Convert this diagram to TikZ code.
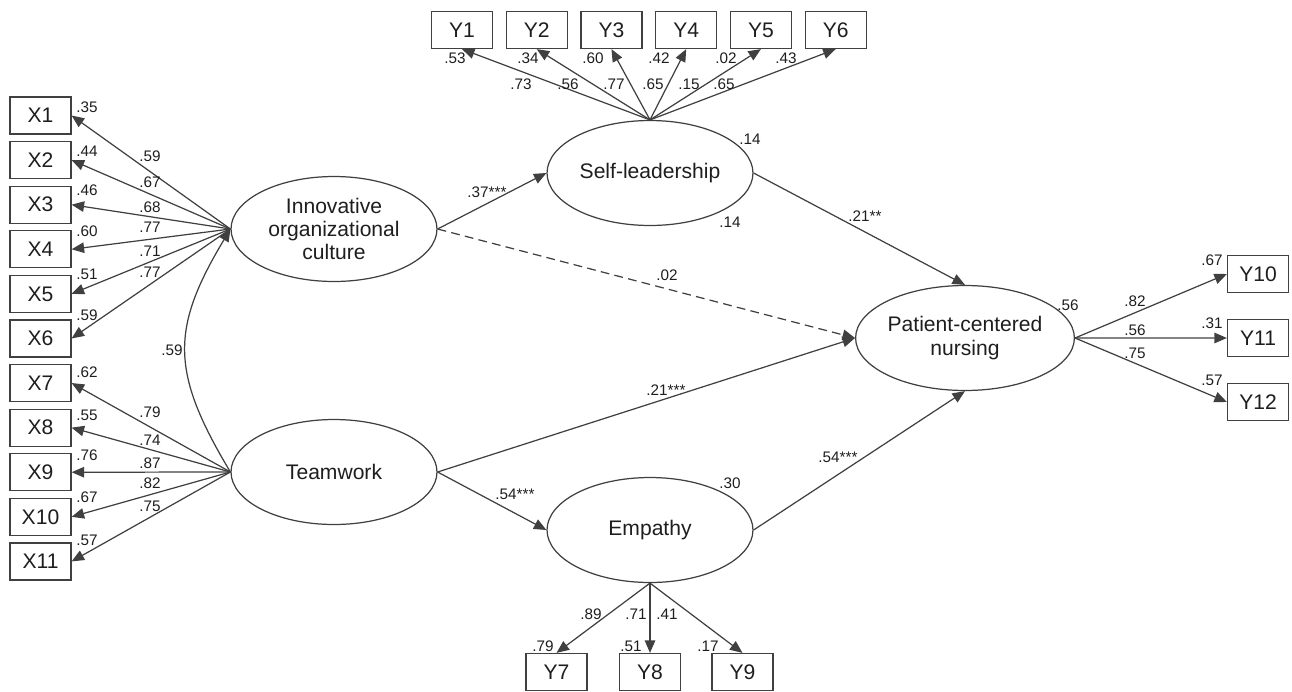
\documentclass[tikz,border=0pt]{standalone}
\usepackage{fontspec}
\setmainfont{Liberation Sans}
\usetikzlibrary{shapes.geometric,arrows.meta,positioning}
\definecolor{linegray}{RGB}{64,64,64}
\definecolor{textgray}{RGB}{30,30,30}
\tikzset{
    %Define standard arrow tip
    >={Triangle[length=2.5mm,width=2.1mm]},
    %Define style for latent variables
    oval/.style={
           ellipse,
           draw=linegray,
           line width=0.7pt,
           minimum width=4.12cm,
           minimum height=2.1cm,
           inner sep=0pt,
           align=center,
           text=textgray,
           font=\fontsize{12}{13.3}\selectfont},
    %Define style for observed variables
    boks/.style={
           rectangle,
           draw=linegray,
           line width=0.7pt,
           minimum width=1.22cm,
           minimum height=0.74cm,
           inner sep=0pt,
           text=textgray,
           font=\fontsize{12}{14}\selectfont},
    % Define style for estimates
    est/.style={
           inner sep=0pt,
           text=textgray,
           font=\fontsize{8.7}{10}\selectfont},
    % Define arrow style
    arr/.style={
           ->,
           draw=linegray,
           line width=0.7pt}
}

\begin{document}
\begin{tikzpicture}[x=0.02cm, y=0.02cm]
 \useasboundingbox (0,0) rectangle (1292,-691);

 % latent variables
 \node [oval] (inno) at (334,-229) {Innovative\\organizational\\culture};
 \node [oval] (team) at (334,-472) {Teamwork};
 \node [oval] (self) at (650,-173) {Self-leadership};
 \node [oval] (emp) at (650,-530) {Empathy};
 \node [oval] (pcn) at (965,-338) {Patient-centered\\nursing};

 % indicators of innovative culture
 \node [boks] (x1) at (40.5,-115.5) {X1};
 \node [boks, below of=x1, node distance=0.892cm] (x2) {X2};
 \node [boks, below of=x2, node distance=0.892cm] (x3) {X3};
 \node [boks, below of=x3, node distance=0.892cm] (x4) {X4};
 \node [boks, below of=x4, node distance=0.892cm] (x5) {X5};
 \node [boks, below of=x5, node distance=0.892cm] (x6) {X6};
 % indicators of teamwork
 \node [boks, below of=x6, node distance=0.892cm] (x7) {X7};
 \node [boks, below of=x7, node distance=0.892cm] (x8) {X8};
 \node [boks, below of=x8, node distance=0.892cm] (x9) {X9};
 \node [boks, below of=x9, node distance=0.892cm] (x10) {X10};
 \node [boks, below of=x10, node distance=0.892cm] (x11) {X11};

 % indicators of self-leadership
 \node [boks] (y1) at (462,-30) {Y1};
 \node [boks, right of=y1, node distance=1.495cm] (y2) {Y2};
 \node [boks, right of=y2, node distance=1.495cm] (y3) {Y3};
 \node [boks, right of=y3, node distance=1.495cm] (y4) {Y4};
 \node [boks, right of=y4, node distance=1.495cm] (y5) {Y5};
 \node [boks, right of=y5, node distance=1.495cm] (y6) {Y6};

 % indicators of empathy
 \node [boks] (y8) at (650,-672) {Y8};
 \node [boks, left of=y8, node distance=1.87cm] (y7) {Y7};
 \node [boks, right of=y8, node distance=1.85cm] (y9) {Y9};

 % indicators of patient-centered nursing
 \node [boks] (y10) at (1258,-274) {Y10};
 \node [boks, below of=y10, node distance=1.28cm] (y11) {Y11};
 \node [boks, below of=y11, node distance=1.28cm] (y12) {Y12};

 % squared multiple correlations
 \node [est] (rx1) at (87,-107) {.35};
 \node [est] (rx2) at (87,-151) {.44};
 \node [est] (rx3) at (87,-190) {.46};
 \node [est] (rx4) at (87,-231) {.60};
 \node [est] (rx5) at (87,-274) {.51};
 \node [est] (rx6) at (87,-315) {.59};
 \node [est] (rx7) at (87,-372) {.62};
 \node [est] (rx8) at (87,-415) {.55};
 \node [est] (rx9) at (87,-455) {.76};
 \node [est] (rx10) at (87,-497) {.67};
 \node [est] (rx11) at (87,-540) {.57};
 \node [est] (ry1) at (455,-58) {.53};
 \node [est] (ry2) at (528,-58) {.34};
 \node [est] (ry3) at (593,-58) {.60};
 \node [est] (ry4) at (659,-58) {.42};
 \node [est] (ry5) at (726,-58) {.02};
 \node [est] (ry6) at (786,-58) {.43};
 \node [est] (ry7) at (543,-646) {.79};
 \node [est] (ry8) at (631,-646) {.51};
 \node [est] (ry9) at (708,-646) {.17};
 \node [est] (ry10) at (1212,-260) {.67};
 \node [est] (ry11) at (1212,-323) {.31};
 \node [est] (ry12) at (1212,-380) {.57};
 \node [est] (rself) at (750,-139) {.14};
 \node [est] (rself2) at (730,-222) {.14};
 \node [est] (remp) at (730,-483) {.30};
 \node [est] (rpcn) at (1068,-305) {.56};

 % loadings
 \draw [arr] (inno.west) -- (x1.east) node [est] (lx1) at (150,-156) {.59};
 \draw [arr] (inno.west) -- (x2.east) node [est] (lx2) at (150,-182) {.67};
 \draw [arr] (inno.west) -- (x3.east) node [est] (lx3) at (150,-207) {.68};
 \draw [arr] (inno.west) -- (x4.east) node [est] (lx4) at (150,-227) {.77};
 \draw [arr] (inno.west) -- (x5.east) node [est] (lx5) at (150,-251) {.71};
 \draw [arr] (inno.west) -- (x6.east) node [est] (lx6) at (150,-272) {.77};
 \draw [arr] (team.west) -- (x7.east) node [est] (lx7) at (150,-412) {.79};
 \draw [arr] (team.west) -- (x8.east) node [est] (lx8) at (150,-440) {.74};
 \draw [arr] (team.west) -- (x9.east) node [est] (lx9) at (150,-463) {.87};
 \draw [arr] (team.west) -- (x10.east) node [est] (lx10) at (150,-483) {.82};
 \draw [arr] (team.west) -- (x11.east) node [est] (lx11) at (150,-506) {.75};
 \draw [arr] (self.north) -- (y1.south) node [est] (ly1) at (521,-84) {.73};
 \draw [arr] (self.north) -- (y2.south) node [est] (ly2) at (568,-84) {.56};
 \draw [arr] (self.north) -- (y3.south) node [est] (ly3) at (614,-84) {.77};
 \draw [arr] (self.north) -- (y4.south) node [est] (ly4) at (653,-84) {.65};
 \draw [arr] (self.north) -- (y5.south) node [est] (ly5) at (689,-84) {.15};
 \draw [arr] (self.north) -- (y6.south) node [est] (ly6) at (724,-84) {.65};
 \draw [arr] (emp.south) -- (y7.north) node [est] (ly7) at (591,-614) {.89};
 \draw [arr] (emp.south) -- (y8.north) node [est] (ly8) at (636,-614) {.71};
 \draw [arr] (emp.south) -- (y9.north) node [est] (ly9) at (667,-614) {.41};
 \draw [arr] (pcn.east) -- (y10.west) node [est] (ly10) at (1135,-301) {.82};
 \draw [arr] (pcn.east) -- (y11.west) node [est] (ly11) at (1135,-330) {.56};
 \draw [arr] (pcn.east) -- (y12.west) node [est] (ly12) at (1135,-353) {.75};

 % structural paths
 \draw [arr] (team.west) .. controls +(-60,100) and +(-60,-100) .. (inno.west)
   node [est] (cor) at (172,-350) {.59};
 \draw [arr] (inno.east) -- (self.west) node [est] (p1) at (487,-192) {.37***};
 \draw [arr, dash pattern=on 5pt off 3pt] (inno.east) -- (pcn.west)
   node [est] (p2) at (667,-275) {.02};
 \draw [arr] (self.east) -- (pcn.north) node [est] (p3) at (865,-216) {.21**};
 \draw [arr] (team.east) -- (pcn.west) node [est] (p4) at (666,-390) {.21***};
 \draw [arr] (team.east) -- (emp.west) node [est] (p5) at (515,-494) {.54***};
 \draw [arr] (emp.east) -- (pcn.south) node [est] (p6) at (838,-457) {.54***};
\end{tikzpicture}
\end{document}
